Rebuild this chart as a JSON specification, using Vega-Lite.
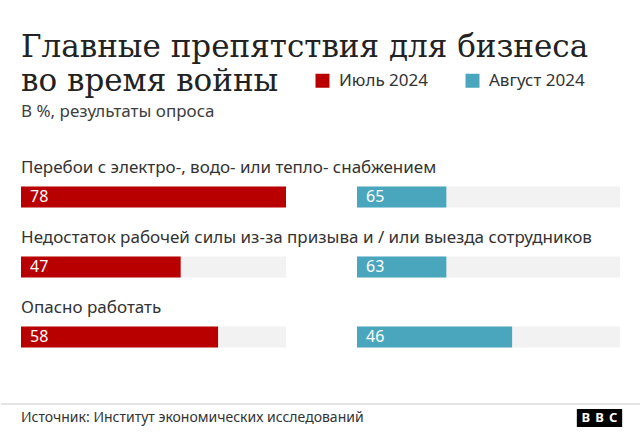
{
  "$schema": "https://vega.github.io/schema/vega-lite/v6.json",
  "background": "white",
  "padding": {"left": 0, "top": 32, "right": 0, "bottom": 0},
  "datasets": {
    "survey": [
      {"cat": "Перебои с электро-, водо- или тепло- снабжением", "period": "Июль 2024", "value": 78, "bar": 78},
      {"cat": "Перебои с электро-, водо- или тепло- снабжением", "period": "Август 2024", "value": 65, "bar": 26.5},
      {"cat": "Недостаток рабочей силы из-за призыва и / или выезда сотрудников", "period": "Июль 2024", "value": 47, "bar": 47},
      {"cat": "Недостаток рабочей силы из-за призыва и / или выезда сотрудников", "period": "Август 2024", "value": 63, "bar": 26.5},
      {"cat": "Опасно работать", "period": "Июль 2024", "value": 58, "bar": 58},
      {"cat": "Опасно работать", "period": "Август 2024", "value": 46, "bar": 46}
    ],
    "logo": [
      {"letter": "B", "slot": 1},
      {"letter": "B", "slot": 2},
      {"letter": "C", "slot": 3}
    ]
  },
  "vconcat": [
    {
      "title": {
        "text": ["Главные препятствия для бизнеса", "во время войны"],
        "subtitle": "В %, результаты опроса",
        "anchor": "start",
        "frame": "group",
        "font": "DejaVu Serif",
        "fontSize": 31,
        "fontWeight": "normal",
        "lineHeight": 34,
        "color": "#222222",
        "subtitleFont": "Noto Sans",
        "subtitleFontSize": 17,
        "subtitleColor": "#404040",
        "subtitlePadding": 6,
        "offset": 38
      },
      "bounds": "flush",
      "hconcat": [
        {
          "width": 265,
          "height": {"step": 70},
          "data": {"name": "survey"},
          "transform": [{"filter": "datum.period === 'Июль 2024'"}],
          "encoding": {
            "y": {"field": "cat", "type": "nominal", "sort": null, "axis": null, "scale": {"paddingInner": 0, "paddingOuter": 0}}
          },
          "layer": [
            {
              "mark": {"type": "bar", "size": 21, "color": "#f2f2f2"},
              "encoding": {"x": {"datum": 78, "type": "quantitative", "scale": {"domain": [0, 78], "nice": false}, "axis": null}}
            },
            {
              "mark": {"type": "bar", "size": 21},
              "encoding": {
                "x": {"field": "bar", "type": "quantitative"},
                "color": {
                  "field": "period", "type": "nominal",
                  "scale": {"domain": ["Июль 2024", "Август 2024"], "range": ["#b80000", "#4aa6bd"]},
                  "legend": {
                    "orient": "none", "legendX": 293, "legendY": -90, "direction": "horizontal",
                    "title": null, "symbolType": "square", "symbolSize": 196, "symbolStrokeWidth": 0,
                    "symbolOpacity": 1, "labelFontSize": 17, "labelFont": "Noto Sans", "labelColor": "#333333",
                    "columnPadding": 36, "labelOffset": 8
                  }
                }
              }
            },
            {
              "mark": {"type": "text", "align": "left", "baseline": "middle", "dx": 9, "color": "white", "font": "Noto Sans", "fontSize": 16},
              "encoding": {"x": {"datum": 0, "type": "quantitative"}, "text": {"field": "value", "type": "quantitative"}}
            },
            {
              "mark": {"type": "text", "align": "left", "baseline": "middle", "dy": -29, "color": "#333333", "font": "Noto Sans", "fontSize": 17},
              "encoding": {"x": {"datum": 0, "type": "quantitative"}, "text": {"field": "cat", "type": "nominal"}}
            }
          ]
        },
        {
          "width": 263,
          "height": {"step": 70},
          "data": {"name": "survey"},
          "transform": [{"filter": "datum.period === 'Август 2024'"}],
          "encoding": {
            "y": {"field": "cat", "type": "nominal", "sort": null, "axis": null, "scale": {"paddingInner": 0, "paddingOuter": 0}}
          },
          "layer": [
            {
              "mark": {"type": "bar", "size": 21, "color": "#f2f2f2"},
              "encoding": {"x": {"datum": 78, "type": "quantitative", "scale": {"domain": [0, 78], "nice": false}, "axis": null}}
            },
            {
              "mark": {"type": "bar", "size": 21},
              "encoding": {
                "x": {"field": "bar", "type": "quantitative"},
                "color": {"field": "period", "type": "nominal"}
              }
            },
            {
              "mark": {"type": "text", "align": "left", "baseline": "middle", "dx": 9, "color": "white", "font": "Noto Sans", "fontSize": 16},
              "encoding": {"x": {"datum": 0, "type": "quantitative"}, "text": {"field": "value", "type": "quantitative"}}
            }
          ]
        }
      ],
      "spacing": 71
    },
    {
      "width": 600,
      "height": 24,
      "layer": [
        {
          "data": {"values": [{}]},
          "mark": {"type": "rule", "color": "#cccccc", "strokeWidth": 1},
          "encoding": {"x": {"value": -20}, "x2": {"value": 620}, "y": {"value": 0}}
        },
        {
          "data": {"values": [{"source": "Источник: Институт экономических исследований"}]},
          "mark": {"type": "text", "align": "left", "baseline": "middle", "font": "Noto Sans", "fontSize": 14, "color": "#333333"},
          "encoding": {"x": {"value": 0}, "y": {"value": 14}, "text": {"field": "source", "type": "nominal"}}
        },
        {
          "data": {"name": "logo"},
          "mark": {"type": "square", "size": 324, "color": "black", "opacity": 1},
          "encoding": {
            "x": {"field": "slot", "type": "ordinal", "scale": {"type": "point", "range": [558, 599]}, "axis": null},
            "y": {"value": 14}
          }
        },
        {
          "data": {"name": "logo"},
          "mark": {"type": "text", "align": "center", "baseline": "middle", "font": "Noto Sans", "fontWeight": "bold", "fontSize": 13, "color": "white"},
          "encoding": {
            "x": {"field": "slot", "type": "ordinal", "axis": null},
            "y": {"value": 14},
            "text": {"field": "letter", "type": "nominal"}
          }
        }
      ]
    }
  ],
  "spacing": 31,
  "config": {
    "view": {"stroke": null},
    "font": "Noto Sans"
  }
}
